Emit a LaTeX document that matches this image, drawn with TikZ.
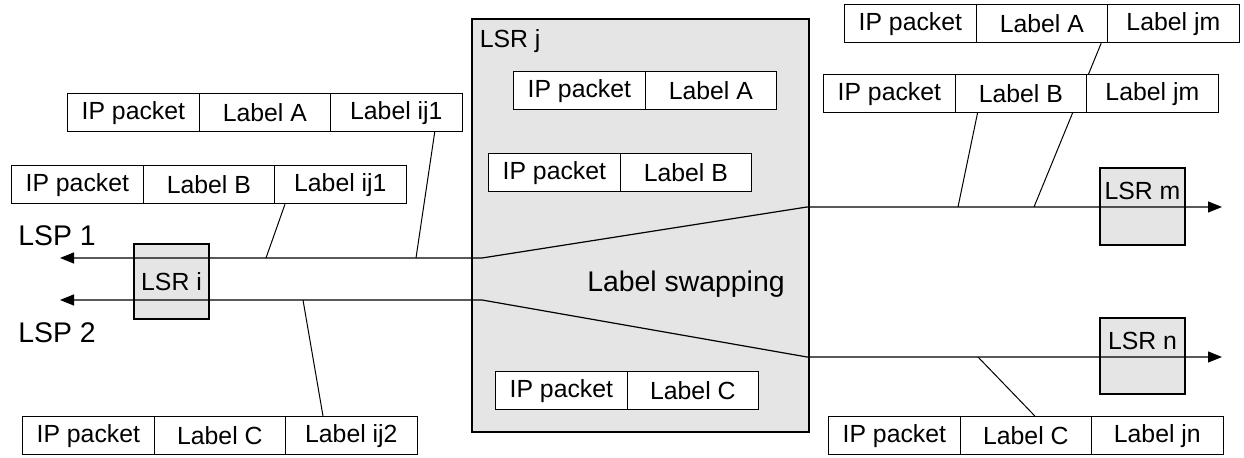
\documentclass[tikz,border=0pt]{standalone}
\usepackage[svgnames]{xcolor}
\usepackage{fontspec}
\setmainfont{Liberation Sans}
\usetikzlibrary{arrows.meta}
\tikzset{
  every cell/.style={draw,fill=white,line width=0.6pt,minimum width=65.75pt,minimum height=19pt,
    inner sep=0pt,anchor=north west,font=\fontsize{12.4}{14}\selectfont},
  every lsr/.style={draw,fill=lsrfill,line width=0.6pt,inner sep=0pt,font=\fontsize{12.4}{14}\selectfont},
  lsp/.style={line width=0.6pt,{Triangle[length=7pt,width=5.5pt]}-{Triangle[length=7pt,width=5.5pt]}},
  tap/.style={line width=0.5pt},
  big text/.style={inner sep=0pt,font=\fontsize{14.2}{17}\selectfont},
  pics/packet/.style={code={
    \foreach \txt [count=\k] in {#1}
      \node[every cell] (-\k) at ({(\k-1)*131.5},0) {\txt};
  }},
}
\colorlet{lsrfill}{black!10}

\begin{document}
\begin{tikzpicture}[x=0.5pt,y=-0.5pt]
\useasboundingbox (0,0) rectangle (1244,458);
\node[every lsr,minimum width=168.5pt,minimum height=206.5pt,
  label={[anchor=north west,inner sep=0pt,xshift=4pt,yshift=-5.5pt,font=\fontsize{12.4}{14}\selectfont]north west:LSR j}] (lsrj) at (640.5,225.5) {};
\node[every lsr,minimum width=37.5pt,minimum height=37.5pt] (lsri) at (171.5,281.5) {LSR i};
\node[every lsr,minimum width=42.5pt,minimum height=38.5pt,
  label={[anchor=north,inner sep=0pt,yshift=-7pt,font=\fontsize{12.4}{14}\selectfont]north:LSR m}] (lsrm) at (1142.5,206.5) {};
\node[every lsr,minimum width=42.5pt,minimum height=38pt,
  label={[anchor=north,inner sep=0pt,yshift=-7pt,font=\fontsize{12.4}{14}\selectfont]north:LSR n}] (lsrn) at (1142.5,356) {};
% the two paths
\coordinate (w1) at (60,258);  \coordinate (j1) at (482,258);
\coordinate (k1) at (807,207); \coordinate (e1) at (1222,207);
\coordinate (w2) at (60,300);  \coordinate (j2) at (482,300);
\coordinate (k2) at (807,357); \coordinate (e2) at (1222,357);
\draw[lsp] (w1) -- (j1) -- (k1) -- (e1);
\draw[lsp] (w2) -- (j2) -- (k2) -- (e2);
\node[big text,anchor=west] (lsp1) at (18,236) {LSP 1};
\node[big text,anchor=west] (lsp2) at (18,333) {LSP 2};
\node[big text] (swap) at (686,284) {Label swapping};
% packets
\pic (pa) at (67,93) {packet={IP packet,Label A,Label ij1}};
\pic (pb) at (11,165) {packet={IP packet,Label B,Label ij1}};
\pic (pc) at (22,416) {packet={IP packet,Label C,Label ij2}};
\pic (ja) at (513,71) {packet={IP packet,Label A}};
\pic (jb) at (488,153) {packet={IP packet,Label B}};
\pic (jc) at (495,371) {packet={IP packet,Label C}};
\pic (ra) at (844,4) {packet={IP packet,Label A,Label jm}};
\coordinate (ma) at (1034,207);
\draw[tap] ([xshift=-3.5pt]ra-2.south east) -- (ma);
\pic (rb) at (823,74) {packet={IP packet,Label B,Label jm}};
\pic (rc) at (828,416) {packet={IP packet,Label C,Label jn}};
% taps onto the paths
\coordinate (pa1) at (416,258);
\coordinate (pb1) at (266,258);
\coordinate (pc2) at (303,300);
\coordinate (mb) at (958,207);
\coordinate (nc) at (978,357);
\draw[tap] ([xshift=-14pt]pa-3.south east) -- (pa1);
\draw[tap] ([xshift=5.5pt]pb-3.south west) -- (pb1);
\draw[tap] ([xshift=19pt]pc-3.north west) -- (pc2);
\draw[tap] ([xshift=11.5pt]rb-2.south west) -- (mb);
\draw[tap] ([xshift=4.5pt]rc-2.north) -- (nc);
\end{tikzpicture}
\end{document}
